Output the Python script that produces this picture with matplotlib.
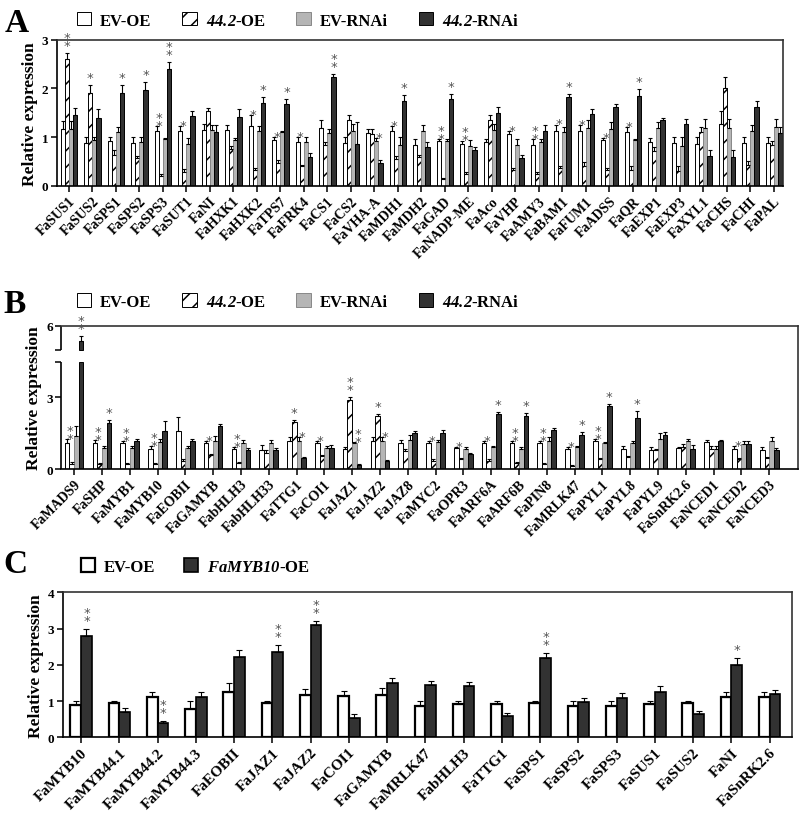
import numpy as np
import matplotlib.pyplot as plt
from matplotlib.patches import Patch

plt.rcParams['font.family'] = ['Liberation Serif', 'DejaVu Serif']
plt.rcParams['font.weight'] = 'bold'
# mathtext is only used for the italic gene/line names in the legends
plt.rcParams['mathtext.fontset'] = 'custom'
plt.rcParams['mathtext.rm'] = 'Liberation Serif:italic:bold'
plt.rcParams['mathtext.bf'] = 'Liberation Serif:italic:bold'
plt.rcParams['mathtext.it'] = 'Liberation Serif:italic:bold'
plt.rcParams['hatch.linewidth'] = 1.1

# ---------------- panel A data ----------------
genes_a = ['FaSUS1', 'FaSUS2', 'FaSPS1', 'FaSPS2', 'FaSPS3', 'FaSUT1', 'FaNI', 'FaHXK1',
           'FaHXK2', 'FaTPS7', 'FaFRK4', 'FaCS1', 'FaCS2', 'FaVHA-A', 'FaMDH1', 'FaMDH2',
           'FaGAD', 'FaNADP-ME', 'FaAco', 'FaVHP', 'FaAMY3', 'FaBAM1', 'FaFUM1', 'FaADSS',
           'FaQR', 'FaEXP1', 'FaEXP3', 'FaXYL1', 'FaCHS', 'FaCHI', 'FaPAL']
a_ev_oe = [1.17, 0.88, 0.92, 0.88, 1.12, 1.12, 1.15, 1.14, 1.22, 0.95, 0.90, 1.19, 0.88, 1.09, 1.12, 0.85,
           0.93, 0.87, 0.90, 1.06, 0.84, 1.12, 1.12, 0.94, 1.11, 0.91, 0.88, 0.86, 1.27, 0.89, 0.89]
a_ev_oe_err = [0.17, 0.12, 0.08, 0.12, 0.10, 0.10, 0.12, 0.10, 0.24, 0.05, 0.10, 0.17, 0.12, 0.07, 0.10, 0.12,
               0.04, 0.06, 0.07, 0.07, 0.13, 0.14, 0.12, 0.05, 0.10, 0.08, 0.12, 0.14, 0.27, 0.11, 0.11]
a_oe = [2.60, 1.90, 0.64, 0.57, 0.20, 0.29, 1.53, 0.76, 0.33, 0.48, 0.40, 0.85, 1.35, 1.07, 0.56, 0.59,
        0.14, 0.25, 1.36, 0.33, 0.25, 0.36, 0.40, 0.33, 0.33, 0.71, 0.31, 1.10, 2.01, 0.43, 0.84]
a_oe_err = [0.13, 0.17, 0.10, 0.05, 0.05, 0.05, 0.07, 0.05, 0.04, 0.05, 0.04, 0.05, 0.10, 0.10, 0.05, 0.05,
            0.03, 0.03, 0.10, 0.04, 0.04, 0.04, 0.10, 0.04, 0.07, 0.08, 0.09, 0.11, 0.23, 0.09, 0.08]
a_ev_rnai = [1.17, 0.95, 1.10, 0.90, 0.96, 0.86, 1.15, 0.95, 1.12, 1.10, 0.90, 1.09, 1.12, 0.93, 0.83, 1.12,
             0.93, 0.82, 1.15, 0.85, 0.90, 1.10, 1.18, 1.16, 0.94, 1.18, 0.81, 1.18, 1.18, 1.12, 1.20]
a_ev_rnai_err = [0.17, 0.05, 0.10, 0.10, 0.03, 0.13, 0.10, 0.03, 0.10, 0.03, 0.10, 0.07, 0.15, 0.05, 0.17, 0.14,
                 0.03, 0.13, 0.12, 0.12, 0.07, 0.10, 0.17, 0.16, 0.03, 0.14, 0.19, 0.19, 0.19, 0.13, 0.18]
a_rnai = [1.46, 1.40, 1.90, 1.97, 2.40, 1.44, 1.10, 1.42, 1.71, 1.68, 0.60, 2.23, 0.86, 0.48, 1.75, 0.80,
          1.78, 0.74, 1.49, 0.57, 1.12, 1.83, 1.47, 1.62, 1.84, 1.35, 1.28, 0.62, 0.60, 1.62, 1.08]
a_rnai_err = [0.13, 0.17, 0.17, 0.17, 0.15, 0.10, 0.14, 0.15, 0.11, 0.10, 0.07, 0.07, 0.45, 0.05, 0.12, 0.10,
              0.10, 0.05, 0.12, 0.07, 0.12, 0.05, 0.10, 0.07, 0.15, 0.05, 0.10, 0.11, 0.13, 0.12, 0.12]
# (gene index, series index, mark)
a_stars = [(0, 1, '**'), (1, 1, '*'), (2, 3, '*'), (3, 3, '*'), (4, 1, '**'), (4, 3, '**'), (5, 1, '*'),
           (8, 1, '*'), (8, 3, '*'), (9, 1, '*'), (9, 3, '*'), (10, 1, '*'), (11, 3, '**'), (13, 3, '*'),
           (14, 1, '*'), (14, 3, '*'), (16, 1, '**'), (16, 3, '*'), (17, 1, '**'), (19, 1, '*'),
           (20, 1, '**'), (21, 1, '*'), (21, 3, '*'), (22, 1, '*'), (23, 1, '*'), (24, 1, '*'), (24, 3, '*')]

# ---------------- panel B data ----------------
genes_b = ['FaMADS9', 'FaSHP', 'FaMYB1', 'FaMYB10', 'FaEOBII', 'FaGAMYB', 'FabHLH3', 'FabHLH33',
           'FaTTG1', 'FaCOI1', 'FaJAZ1', 'FaJAZ2', 'FaJAZ8', 'FaMYC2', 'FaOPR3', 'FaARF6A', 'FaARF6B',
           'FaPIN8', 'FaMRLK47', 'FaPYL1', 'FaPYL8', 'FaPYL9', 'FaSnRK2.6', 'FaNCED1', 'FaNCED2', 'FaNCED3']
b_ev_oe = [1.09, 1.09, 1.09, 0.85, 1.58, 1.09, 0.85, 0.81, 1.16, 1.09, 0.82, 1.17, 1.10,
           1.09, 0.88, 1.09, 1.09, 1.10, 0.85, 1.16, 0.85, 0.81, 0.88, 1.13, 0.85, 0.78]
b_ev_oe_err = [0.15, 0.13, 0.08, 0.10, 0.60, 0.10, 0.08, 0.18, 0.18, 0.08, 0.12, 0.15, 0.10,
               0.10, 0.05, 0.10, 0.07, 0.08, 0.07, 0.10, 0.12, 0.10, 0.03, 0.10, 0.10, 0.14]
b_oe = [0.21, 0.21, 0.20, 0.20, 0.35, 0.59, 0.24, 0.68, 1.95, 0.54, 2.87, 2.23, 0.75,
        0.35, 0.42, 0.35, 0.25, 0.21, 0.14, 0.42, 0.50, 0.78, 0.92, 0.85, 0.40, 0.47]
b_oe_err = [0.07, 0.05, 0.05, 0.05, 0.05, 0.04, 0.05, 0.10, 0.10, 0.05, 0.13, 0.07, 0.10,
            0.05, 0.05, 0.05, 0.04, 0.05, 0.04, 0.05, 0.05, 0.07, 0.14, 0.12, 0.05, 0.05]
b_ev_rnai = [1.39, 0.88, 0.88, 1.13, 0.88, 1.17, 1.10, 1.10, 1.16, 0.88, 1.09, 1.17, 1.23,
             1.13, 0.85, 0.92, 0.82, 1.17, 0.92, 1.09, 1.09, 1.24, 1.16, 0.85, 1.06, 1.17]
b_ev_rnai_err = [0.41, 0.07, 0.07, 0.14, 0.07, 0.20, 0.10, 0.10, 0.17, 0.10, 0.05, 0.15, 0.20,
                 0.10, 0.07, 0.05, 0.10, 0.17, 0.03, 0.05, 0.07, 0.27, 0.10, 0.10, 0.10, 0.15]
b_rnai = [5.35, 1.94, 1.16, 1.58, 1.16, 1.80, 0.78, 0.81, 0.45, 0.88, 0.18, 0.33, 1.49,
          1.49, 0.64, 2.30, 2.23, 1.63, 1.44, 2.64, 2.12, 1.44, 0.85, 1.16, 1.06, 0.81]
b_rnai_err = [0.20, 0.13, 0.10, 0.42, 0.10, 0.10, 0.10, 0.05, 0.05, 0.13, 0.05, 0.05, 0.10,
              0.15, 0.04, 0.10, 0.10, 0.10, 0.10, 0.07, 0.30, 0.10, 0.14, 0.05, 0.12, 0.05]
b_stars = [(0, 1, '**'), (0, 3, '**'), (1, 1, '**'), (1, 3, '*'), (2, 1, '**'), (3, 1, '**'), (5, 1, '*'),
           (6, 1, '**'), (8, 1, '*'), (8, 3, '*'), (9, 1, '*'), (10, 1, '**'), (10, 3, '**'), (11, 1, '*'),
           (11, 3, '*'), (13, 1, '*'), (14, 1, '*'), (15, 1, '*'), (15, 3, '*'), (16, 1, '**'), (16, 3, '*'),
           (17, 1, '**'), (18, 1, '*'), (18, 3, '*'), (19, 1, '**'), (19, 3, '*'), (20, 3, '*'), (24, 1, '*')]
b_break = (4.5, 4.98)

# ---------------- panel C data ----------------
genes_c = ['FaMYB10', 'FaMYB44.1', 'FaMYB44.2', 'FaMYB44.3', 'FaEOBII', 'FaJAZ1', 'FaJAZ2', 'FaCOI1',
           'FaGAMYB', 'FaMRLK47', 'FabHLH3', 'FaTTG1', 'FaSPS1', 'FaSPS2', 'FaSPS3', 'FaSUS1',
           'FaSUS2', 'FaNI', 'FaSnRK2.6']
c_ev = [0.89, 0.94, 1.12, 0.78, 1.24, 0.95, 1.17, 1.15, 1.18, 0.87, 0.92, 0.92, 0.94, 0.87, 0.87,
        0.92, 0.95, 1.12, 1.12]
c_ev_err = [0.12, 0.07, 0.12, 0.21, 0.26, 0.06, 0.16, 0.14, 0.17, 0.12, 0.09, 0.08, 0.07, 0.14, 0.14,
            0.09, 0.04, 0.12, 0.12]
c_oe = [2.80, 0.71, 0.39, 1.12, 2.23, 2.36, 3.10, 0.53, 1.49, 1.43, 1.41, 0.58, 2.20, 0.97, 1.09,
        1.26, 0.63, 2.00, 1.20]
c_oe_err = [0.19, 0.10, 0.07, 0.12, 0.19, 0.19, 0.11, 0.10, 0.15, 0.13, 0.11, 0.08, 0.13, 0.11, 0.12,
            0.15, 0.11, 0.19, 0.11]
c_stars = [(0, 1, '**'), (2, 1, '**'), (5, 1, '**'), (6, 1, '**'), (12, 1, '**'), (17, 1, '*')]

GRAY = '#b5b5b5'
DARK = '#323232'
STAR = '#555555'
style4 = [dict(facecolor='white', edgecolor='black', linewidth=0.7),
          dict(facecolor='white', edgecolor='black', linewidth=0.7, hatch='//'),
          dict(facecolor=GRAY, edgecolor='#888888', linewidth=0.7),
          dict(facecolor=DARK, edgecolor='black', linewidth=0.7)]
style2 = [dict(facecolor='white', edgecolor='black', linewidth=1.6),
          dict(facecolor=DARK, edgecolor='black', linewidth=1.2)]


def draw_bars(ax, vals, errs, styles, width, cap, brk=None):
    n = len(vals)
    for j, (h, e, st) in enumerate(zip(vals, errs, styles)):
        h = np.asarray(h)
        e = np.asarray(e)
        x = np.arange(len(h)) + (j - (n - 1) / 2) * width
        if brk is None:
            ax.bar(x, h, width, zorder=2, **st)
        else:
            ax.bar(x, np.minimum(h, brk[0]), width, zorder=2, **st)
            hi = h > brk[1]
            ax.bar(x[hi], h[hi] - brk[1], width, bottom=brk[1], zorder=2, **st)
        ax.errorbar(x, h, yerr=[np.zeros_like(e), e], fmt='none', ecolor='black',
                    elinewidth=0.8, capsize=cap, capthick=0.8, zorder=3)


def draw_stars(ax, stars, vals, errs, width, fs, pad, side):
    n = len(vals)
    for gi, sj, mark in stars:
        x = gi + (sj - (n - 1) / 2) * width
        top = vals[sj][gi] + errs[sj][gi]
        y = top + pad
        if sj > 0:
            left = vals[sj - 1][gi] + errs[sj - 1][gi]
            if left > top + side:
                # short bar: the mark sits beside the taller left neighbour
                y = left - side
                x -= width * 0.35
        ax.text(x, y, '*\n*' if mark == '**' else '*', ha='center', va='bottom', fontsize=fs,
                color=STAR, linespacing=0.5, family='DejaVu Sans', fontweight='normal', zorder=4)


def style_axis(ax, genes, xlim, ylim, yticks, fs_x):
    ax.set_xlim(*xlim)
    ax.set_ylim(*ylim)
    ax.set_xticks(np.arange(len(genes)))
    ax.set_xticklabels(genes, rotation=45, ha='right', rotation_mode='anchor', fontsize=fs_x,
                       fontweight='bold')
    ax.set_yticks(yticks)
    ax.tick_params(axis='both', direction='out', length=4, width=1.1, pad=2)
    ax.tick_params(axis='y', labelsize=9.5)
    for s in ax.spines.values():
        s.set_linewidth(1.2)
    ax.spines['top'].set_color('#333333')
    ax.spines['right'].set_color('#333333')
    ax.set_ylabel('Relative expression', fontsize=12.5, fontweight='bold', labelpad=3)


def legend(ax, handles, labels, x, y, colsp):
    ax.legend(handles, labels, loc='lower left', bbox_to_anchor=(x, y), bbox_transform=fig.transFigure,
              ncol=len(handles), frameon=False, borderpad=0, borderaxespad=0, handlelength=0.85,
              handleheight=0.85, handletextpad=0.55, columnspacing=colsp,
              prop=dict(family='Liberation Serif', weight='bold', size=12))


fig = plt.figure(figsize=(8, 8.2), dpi=100)

lab4 = ['EV-OE', r'$44.2$-OE', 'EV-RNAi', r'$44.2$-RNAi']
hand4 = [Patch(**style4[0]), Patch(**style4[1]), Patch(**style4[2]), Patch(**style4[3])]

# ---- A ----
axA = fig.add_axes([0.071, 0.772, 0.9075, 0.1784])
valsA = [a_ev_oe, a_oe, a_ev_rnai, a_rnai]
errsA = [a_ev_oe_err, a_oe_err, a_ev_rnai_err, a_rnai_err]
draw_bars(axA, valsA, errsA, style4, 0.175, 1.2)
draw_stars(axA, a_stars, valsA, errsA, 0.175, 9.5, 0.02, 0.12)
style_axis(axA, genes_a, (-0.51, 30.38), (0, 3), [0, 1, 2, 3], 10)
legend(axA, hand4, lab4, 0.096, 0.964, 1.85)
fig.text(0.006, 0.961, 'A', fontsize=24, fontweight='bold', va='baseline')

# ---- B ----
axB = fig.add_axes([0.0763, 0.4268, 0.921, 0.1748])
valsB = [b_ev_oe, b_oe, b_ev_rnai, b_rnai]
errsB = [b_ev_oe_err, b_oe_err, b_ev_rnai_err, b_rnai_err]
draw_bars(axB, valsB, errsB, style4, 0.168, 1.2, brk=b_break)
draw_stars(axB, b_stars, valsB, errsB, 0.168, 9.5, 0.04, 0.25)
style_axis(axB, genes_b, (-0.47, 26.03), (0, 6), [0, 3, 6], 10)
axB.set_yticks([0, 3, b_break[0], b_break[1], 6], ['0', '3', '', '', '6'])
axB.spines['left'].set_visible(False)
for y0, y1 in [(0, b_break[0]), (b_break[1], 6)]:
    axB.plot([0, 0], [y0, y1], transform=axB.get_yaxis_transform(), color='black', lw=1.2,
             clip_on=False, solid_capstyle='butt')
legend(axB, hand4, lab4, 0.096, 0.621, 1.85)
fig.text(0.004, 0.618, 'B', fontsize=24, fontweight='bold', va='baseline')

# ---- C ----
axC = fig.add_axes([0.0784, 0.0996, 0.911, 0.1768])
valsC = [c_ev, c_oe]
errsC = [c_ev_err, c_oe_err]
draw_bars(axC, valsC, errsC, style2, 0.28, 2.5)
draw_stars(axC, c_stars, valsC, errsC, 0.28, 9.5, 0.05, 10)
style_axis(axC, genes_c, (-0.48, 18.57), (0, 4), [0, 1, 2, 3, 4], 11)
legend(axC, [Patch(**style2[0]), Patch(**style2[1])], ['EV-OE', r'$FaMYB10$-OE'],
       0.101, 0.298, 1.7)
fig.text(0.004, 0.301, 'C', fontsize=24, fontweight='bold', va='baseline')

fig.savefig('out.png', dpi=100)
